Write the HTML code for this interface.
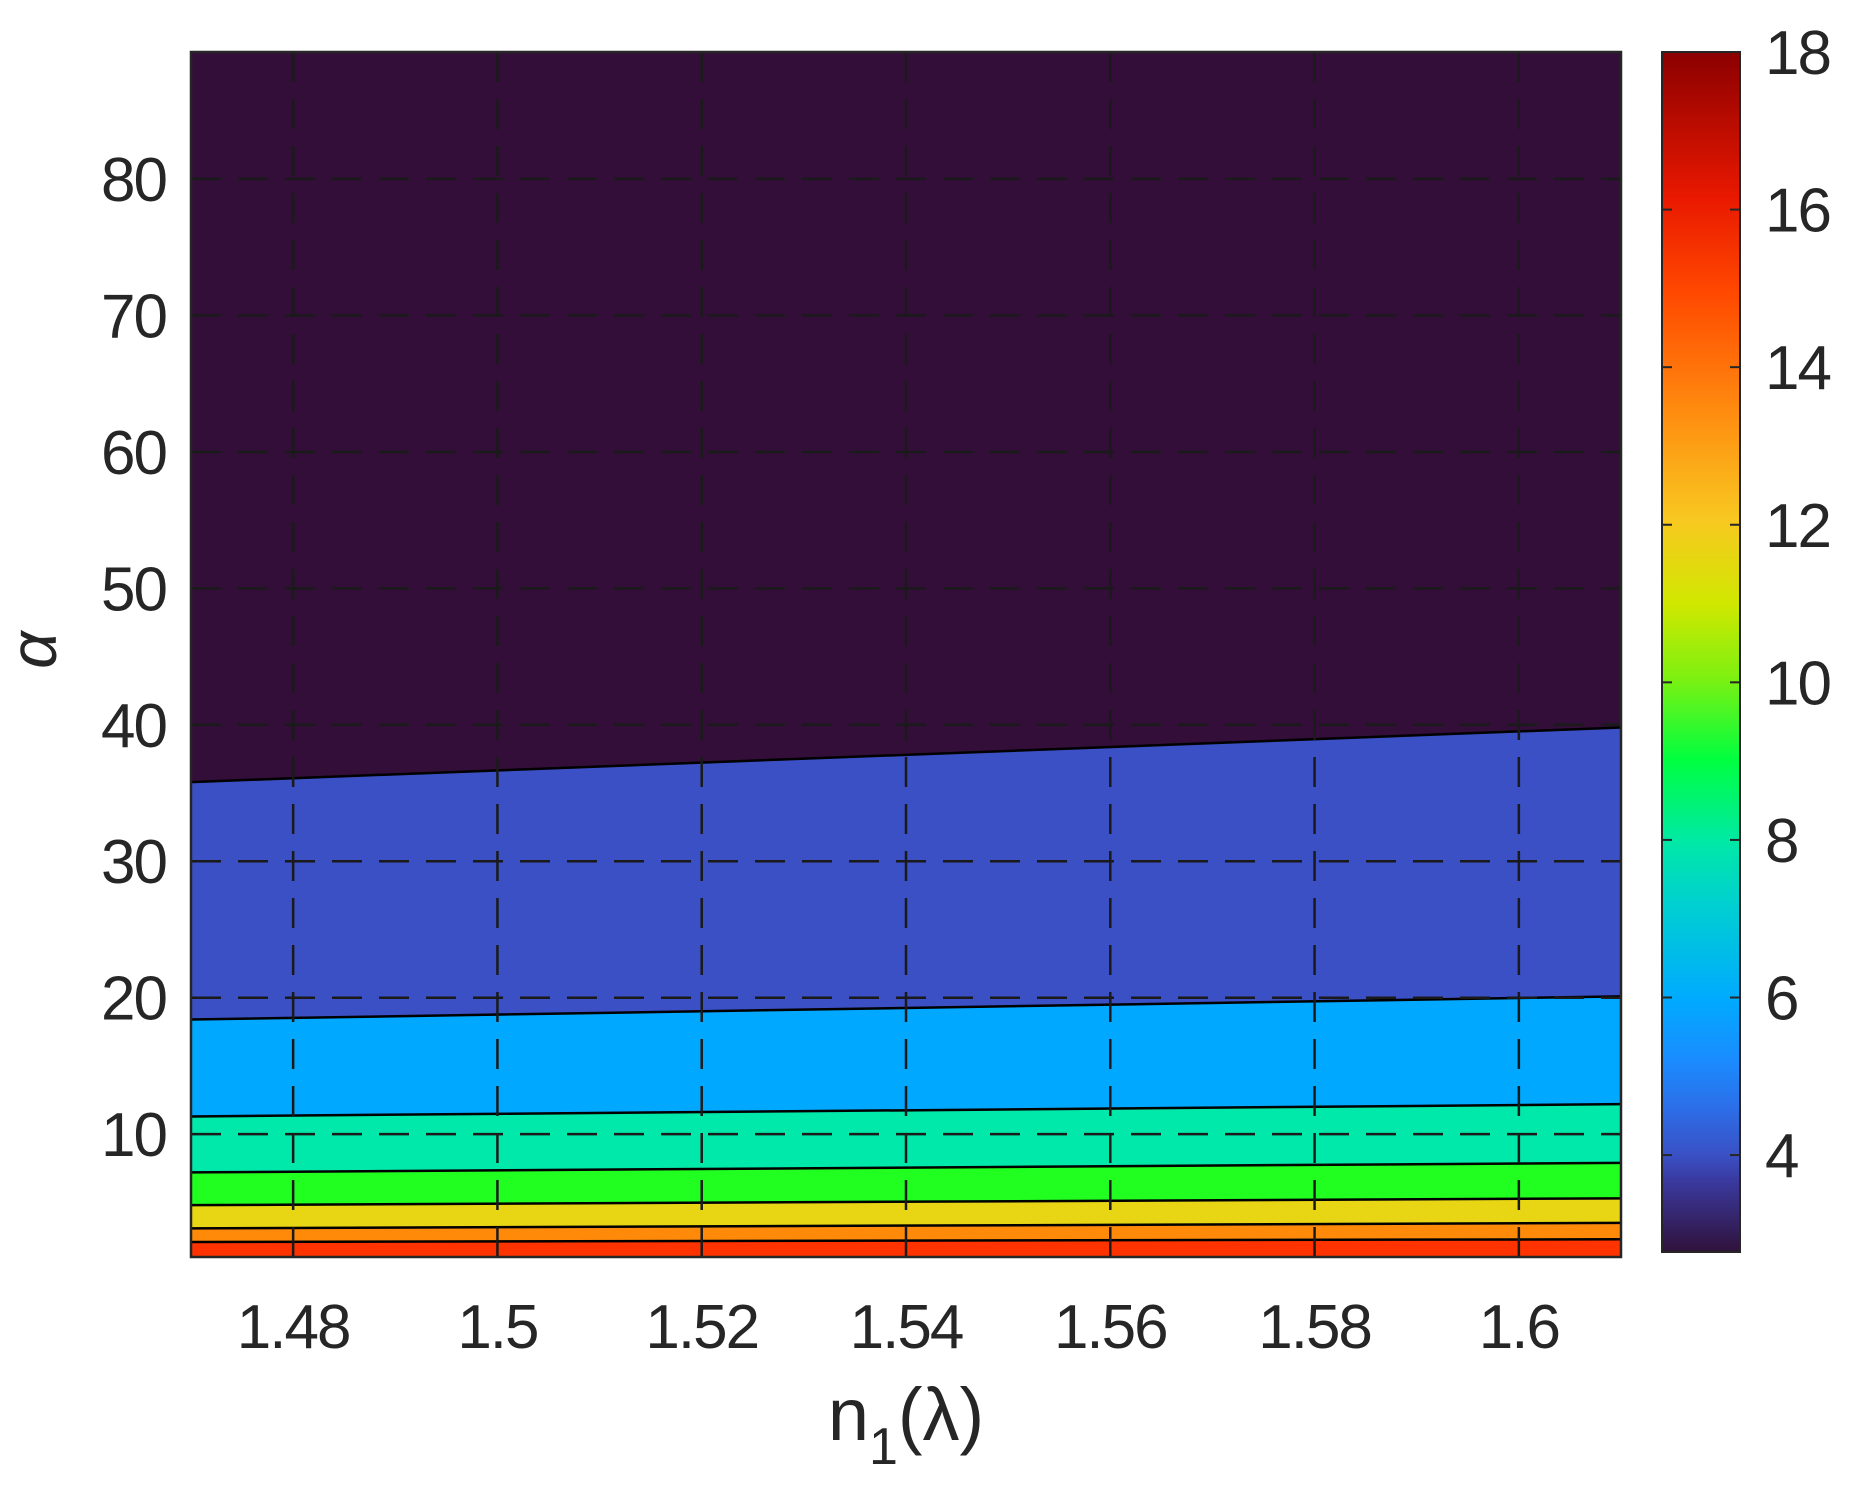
<!DOCTYPE html>
<html><head><meta charset="utf-8"><style>
body{margin:0;background:#fff;}
svg text{font-family:"Liberation Sans",sans-serif;fill:#262626;}
</style></head><body>
<svg id="chart" width="1851" height="1498" viewBox="0 0 1851 1498" xmlns="http://www.w3.org/2000/svg">
<defs>
<linearGradient id="cmap" x1="0" y1="1" x2="0" y2="0">
<stop offset="0" stop-color="#30123b"/>
<stop offset="0.06" stop-color="#3a3aa0"/>
<stop offset="0.08" stop-color="#3a50c4"/>
<stop offset="0.12" stop-color="#2c6ee8"/>
<stop offset="0.16" stop-color="#1a8cff"/>
<stop offset="0.21" stop-color="#00aaff"/>
<stop offset="0.29" stop-color="#00d0d0"/>
<stop offset="0.34" stop-color="#00e8a8"/>
<stop offset="0.41" stop-color="#00ff40"/>
<stop offset="0.48" stop-color="#80f010"/>
<stop offset="0.54" stop-color="#d0e800"/>
<stop offset="0.61" stop-color="#f8c820"/>
<stop offset="0.70" stop-color="#ff8c10"/>
<stop offset="0.80" stop-color="#ff4800"/>
<stop offset="0.88" stop-color="#e81800"/>
<stop offset="1" stop-color="#8b0000"/>
</linearGradient>
</defs>
<g id="plot"></g>
</svg>
<script>
const xTicks=[1.48,1.5,1.52,1.54,1.56,1.58,1.6];
const xTickLabels=["1.48","1.5","1.52","1.54","1.56","1.58","1.6"];
const yTicks=[10,20,30,40,50,60,70,80];
const cbTicks=[4,6,8,10,12,14,16,18];
// contour boundaries: alpha at n1=1.47 (left) and n1=1.61 (right)
const boundaryLeft=[35.8,18.4,11.3,7.2,4.8,3.1,2.1];
const boundaryRight=[39.8,20.1,12.2,7.9,5.3,3.5,2.3];
const bandColors=["#330e39","#3a50c4","#00a8ff","#00e8aa","#20ff20","#e8d614","#ff8a0a","#ff3300"];

const X0=1.47,X1=1.61,Y0=1,Y1=89.3;
const L=191,R=1621,T=52,B=1257;
const sx=v=>L+(v-X0)/(X1-X0)*(R-L);
const sy=v=>B-(v-Y0)/(Y1-Y0)*(B-T);
const CB0=2.77,CB1=18,cbL=1662,cbR=1740,cbT=52,cbB=1252;
const cy=v=>cbB-(v-CB0)/(CB1-CB0)*(cbB-cbT);
const NS="http://www.w3.org/2000/svg";
const g=document.getElementById('plot');
function mk(t,a,p){const e=document.createElementNS(NS,t);for(const k in a)e.setAttribute(k,a[k]);(p||g).appendChild(e);return e;}

for(let i=0;i<bandColors.length;i++){
  const topL=i===0?Y1:boundaryLeft[i-1], topR=i===0?Y1:boundaryRight[i-1];
  const botL=i<boundaryLeft.length?boundaryLeft[i]:Y0, botR=i<boundaryRight.length?boundaryRight[i]:Y0;
  const p=mk('polygon',{points:`${sx(X0)},${sy(topL)} ${sx(X1)},${sy(topR)} ${sx(X1)},${sy(botR)} ${sx(X0)},${sy(botL)}`,fill:bandColors[i]});
  
  
}
for(let i=0;i<boundaryLeft.length;i++){
  const l=mk('line',{x1:sx(X0),y1:sy(boundaryLeft[i]),x2:sx(X1),y2:sy(boundaryRight[i]),stroke:'#000','stroke-width':2.5});
  
  
}
xTicks.forEach((v,i)=>{
  const l=mk('line',{x1:sx(v),y1:T,x2:sx(v),y2:B,stroke:'#1a1a1a','stroke-width':2.5,'stroke-dasharray':'30,17'});
  
  
  const t=mk('text',{x:sx(v),y:1348,'text-anchor':'middle','font-size':62,'letter-spacing':'-2'});
  t.textContent=xTickLabels[i];
  
  
});
yTicks.forEach(v=>{
  const l=mk('line',{x1:L,y1:sy(v),x2:R,y2:sy(v),stroke:'#1a1a1a','stroke-width':2.5,'stroke-dasharray':'30,17'});
  
  
  const t=mk('text',{x:166,y:sy(v)+22,'text-anchor':'end','font-size':62,'letter-spacing':'-2'});
  t.textContent=String(v);
  
  
});
const fr=mk('rect',{x:L,y:T,width:R-L,height:B-T,fill:'none',stroke:'#262626','stroke-width':2.5});


const xt=mk('text',{x:906,y:1440,'text-anchor':'middle','font-size':74});
xt.innerHTML='n<tspan font-size="52" dy="24">1</tspan><tspan dy="-24">(λ)</tspan>';


const yt=mk('text',{x:0,y:0,'text-anchor':'middle','font-size':66,'font-style':'italic','font-family':'Liberation Serif, serif',transform:'translate(56,650) rotate(-90)'});
yt.textContent='α';


const cb=mk('rect',{x:cbL,y:cbT,width:cbR-cbL,height:cbB-cbT,fill:'url(#cmap)',stroke:'#262626','stroke-width':2});


cbTicks.forEach(v=>{
  mk('line',{x1:cbL,y1:cy(v),x2:cbL+10,y2:cy(v),stroke:'#262626','stroke-width':2});
  mk('line',{x1:cbR-10,y1:cy(v),x2:cbR,y2:cy(v),stroke:'#262626','stroke-width':2});
  const t=mk('text',{x:1765,y:cy(v)+22,'font-size':62,'letter-spacing':'-2'});
  t.textContent=String(v);
  
  
});
</script>
</body></html>
